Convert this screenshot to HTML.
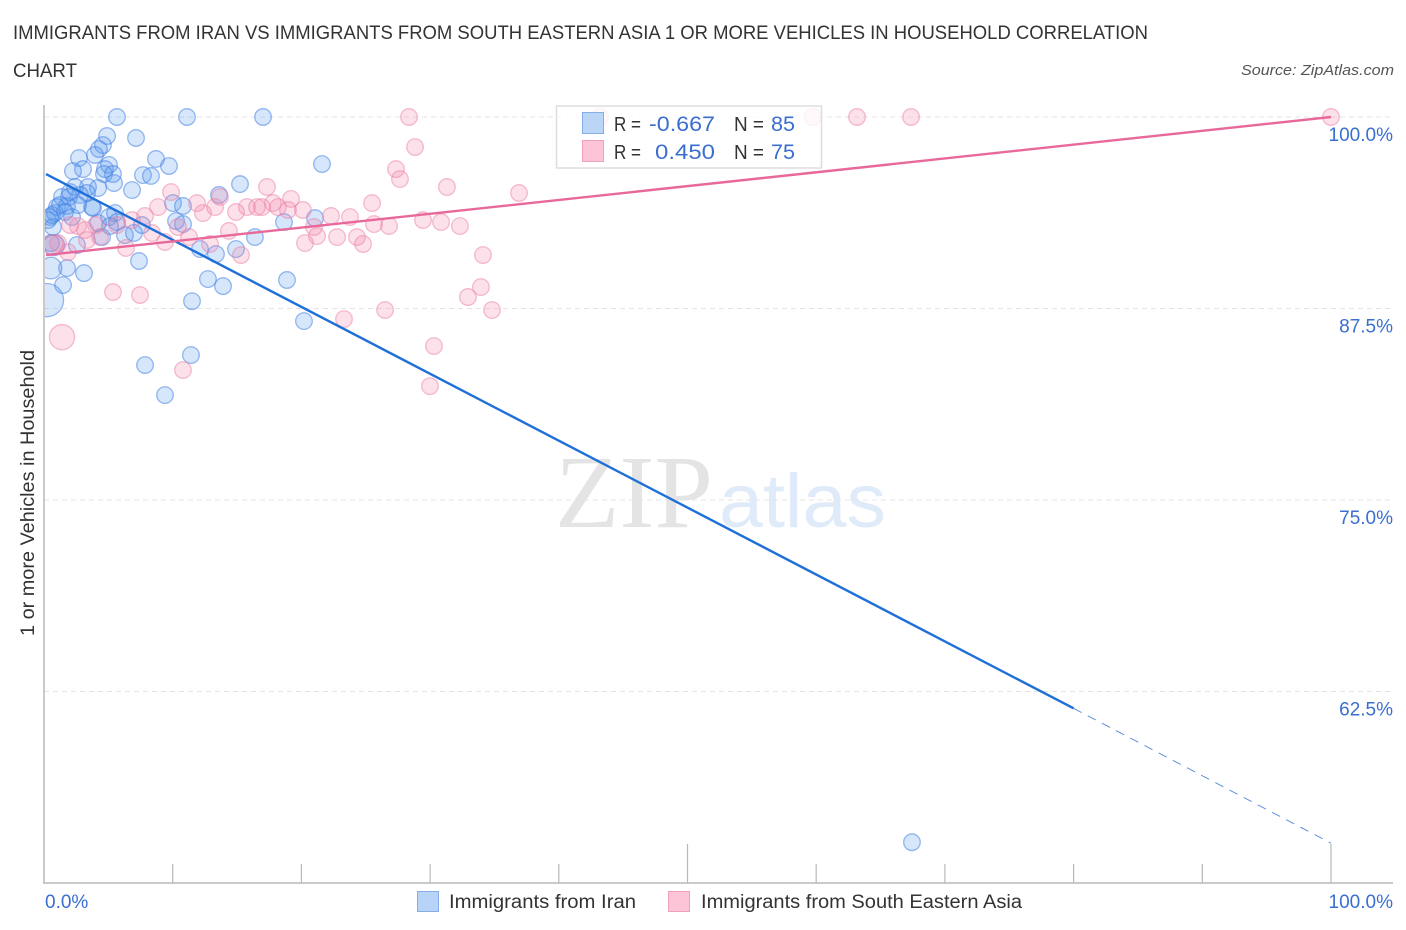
<!DOCTYPE html>
<html lang="en">
<head>
<meta charset="utf-8">
<title>Immigrants from Iran vs Immigrants from South Eastern Asia correlation chart</title>
<style>
html,body{margin:0;padding:0;background:#fff;}
svg{display:block;font-family:"Liberation Sans",sans-serif;}
</style>
</head>
<body>
<svg id="chart" xmlns="http://www.w3.org/2000/svg" width="1406" height="930" viewBox="0 0 1406 930">
  <defs><clipPath id="plot-clip"><rect x="45" y="90" width="1361" height="793"/></clipPath></defs>
  <text x="13" y="39" font-size="19" fill="#333" textLength="1135" lengthAdjust="spacingAndGlyphs">IMMIGRANTS FROM IRAN VS IMMIGRANTS FROM SOUTH EASTERN ASIA 1 OR MORE VEHICLES IN HOUSEHOLD CORRELATION</text>
  <text x="13" y="77" font-size="19" fill="#333" textLength="64" lengthAdjust="spacingAndGlyphs">CHART</text>
  <text x="1394" y="75" font-size="15" font-style="italic" fill="#555" text-anchor="end" textLength="153" lengthAdjust="spacingAndGlyphs">Source: ZipAtlas.com</text>
  <text x="555" y="527" font-size="104" font-family="'Liberation Serif',serif" fill="#e4e4e4" textLength="158" lengthAdjust="spacingAndGlyphs">ZIP</text>
  <text x="719" y="527" font-size="76" fill="#e0ebfa" textLength="167" lengthAdjust="spacingAndGlyphs">atlas</text>
  <g id="grid"></g>
  <g id="axes"></g>
  <g id="points" clip-path="url(#plot-clip)"></g>
  <g id="trends"></g>
  <text transform="translate(34,636) rotate(-90)" font-size="19" fill="#333" textLength="286" lengthAdjust="spacingAndGlyphs">1 or more Vehicles in Household</text>

  <g>
    <rect x="556.5" y="106" width="265" height="62" fill="#fff" fill-opacity="0.8" stroke="#ddd" stroke-width="1.5"/>
    <rect x="582.5" y="112.5" width="21" height="21" fill="#b7d3f7" fill-opacity="0.95" stroke="#86aee6" stroke-width="1"/>
    <rect x="582.5" y="140.5" width="21" height="21" fill="#fcc4d6" stroke="#f0a0bc" stroke-width="1"/>
    <text x="614" y="131" font-size="20" fill="#333" textLength="27" lengthAdjust="spacingAndGlyphs">R =</text>
    <text x="649" y="131" font-size="21.5" fill="#3a6fd0" textLength="66" lengthAdjust="spacingAndGlyphs">-0.667</text>
    <text x="734" y="131" font-size="20" fill="#333" textLength="30" lengthAdjust="spacingAndGlyphs">N =</text>
    <text x="771" y="131" font-size="21.5" fill="#3a6fd0" textLength="24" lengthAdjust="spacingAndGlyphs">85</text>
    <text x="614" y="159" font-size="20" fill="#333" textLength="27" lengthAdjust="spacingAndGlyphs">R =</text>
    <text x="655" y="159" font-size="21.5" fill="#3a6fd0" textLength="60" lengthAdjust="spacingAndGlyphs">0.450</text>
    <text x="734" y="159" font-size="20" fill="#333" textLength="30" lengthAdjust="spacingAndGlyphs">N =</text>
    <text x="771" y="159" font-size="21.5" fill="#3a6fd0" textLength="24" lengthAdjust="spacingAndGlyphs">75</text>
  </g>

  <g>
    <rect x="417.5" y="891.5" width="21" height="20" fill="#b7d3f7" stroke="#86aee6" stroke-width="1"/>
    <text x="449" y="908" font-size="19" fill="#333" textLength="187" lengthAdjust="spacingAndGlyphs">Immigrants from Iran</text>
  </g>
  <g>
    <rect x="668.5" y="891.5" width="21" height="20" fill="#fcc4d6" stroke="#f0a0bc" stroke-width="1"/>
    <text x="701" y="908" font-size="19" fill="#333" textLength="321" lengthAdjust="spacingAndGlyphs">Immigrants from South Eastern Asia</text>
  </g>
</svg>
<script>
// ---- chart data ----
const yTickValues = [100, 87.5, 75, 62.5];
const yTickLabels = ['100.0%', '87.5%', '75.0%', '62.5%'];
const xTickValues = [10, 20, 30, 40, 50, 60, 70, 80, 90, 100];
const xMajorTickValues = [50, 100];
const xEdgeValues = [0, 100];
const xEdgeLabels = ['0.0%', '100.0%'];

const iranX = [5.67,11.11,17.02,4.90,7.15,4.58,4.27,3.96,2.72,8.70,5.05,3.03,9.71,2.25,4.74,5.36,7.69,8.31,4.66,5.44,6.84,15.23,13.60,2.41,3.42,4.20,3.34,2.80,1.40,1.94,10.02,10.80,3.73,3.81,5.52,1.01,1.79,0.85,0.47,2.18,2.64,10.26,10.80,4.20,5.05,5.67,7.61,6.29,6.99,0.70,0.78,2.56,4.51,18.65,16.39,12.12,13.36,14.92,7.38,1.79,3.11,0.54,1.48,12.74,13.91,18.88,11.50,0.23,7.85,11.42,9.40,21.60,21.06,20.20,67.44,1.24,2.02,0.31,0.62,1.63,0.54,5.13];
const iranY = [100,100,100,98.76,98.63,98.17,97.91,97.52,97.32,97.26,96.87,96.60,96.80,96.47,96.60,96.28,96.21,96.15,96.28,95.69,95.23,95.62,94.91,95.43,95.43,95.36,95.04,94.91,94.78,94.78,94.38,94.19,94.12,94.06,93.73,94.12,94.19,93.73,93.47,93.47,94.25,93.21,93.01,93.08,93.47,93.14,92.95,92.29,92.43,92.82,91.64,91.64,92.16,93.14,92.16,91.38,91.05,91.38,90.60,90.14,89.81,90.14,89.03,89.42,88.96,89.36,87.98,88.05,83.81,84.46,81.85,96.93,93.40,86.68,52.66,94.25,95.10,93.27,93.60,93.80,91.77,92.88];
const iranWeight = [1,1,1,1,1,1,1,1,1,1,1,1,1,1,1,1,1,1,1,1,1,1,1,1,1,1,1,1,1,1,1,1,1,1,1,1,1,1,1,1,1,1,1,1,1,1,1,1,1,1,1.6,1,1,1,1,1,1,1,1,1,1,1.7,1,1,1,1,1,4,1,1,1,1,1,1,1,1,1,1,1,1,1,1];

const asiaX = [9.87,11.89,12.35,13.29,8.86,7.85,6.84,14.92,13.67,17.33,15.77,16.55,16.94,17.79,18.18,19.19,18.96,20.12,14.37,12.90,11.27,9.40,8.39,6.37,5.67,4.04,2.64,2.02,3.19,3.34,4.35,1.86,1.09,0.70,15.31,10.41,5.36,7.46,10.80,1.40,28.36,28.83,27.35,27.66,31.31,36.91,25.49,22.30,23.78,25.64,26.81,29.45,30.85,32.32,20.98,21.21,20.28,22.77,24.32,24.79,34.11,33.95,32.94,34.81,26.50,23.31,30.30,29.99,43.20,59.75,63.17,67.37,100,66.82,49.96];
const asiaY = [95.10,94.38,93.73,94.12,94.12,93.54,93.27,93.80,94.78,95.43,94.12,94.12,94.12,94.38,94.12,94.65,93.93,93.93,92.56,91.71,92.16,91.84,92.43,91.45,92.95,92.95,92.88,92.95,92.62,91.97,92.16,91.18,91.77,91.64,90.99,92.82,88.57,88.38,83.48,85.63,100,98.04,96.60,95.95,95.43,95.04,94.38,93.54,93.47,93.01,92.88,93.27,93.14,92.88,92.82,92.23,91.77,92.16,92.16,91.71,90.99,88.90,88.25,87.40,87.40,86.81,85.05,82.43,100,100,100,100,100,98.04,94.52];
const asiaWeight = [1,1,1,1,1,1,1,1,1,1,1,1,1,1,1,1,1,1,1,1,1,1,1,1,1,1,1,1,1,1,1,1,1,1.5,1,1,1,1,1,2.3,1,1,1,1,1,1,1,1,1,1,1,1,1,1,1,1,1,1,1,1,1,1,1,1,1,1,1,1,1,1,1,1,1];

const iranTrendX = [0, 80, 100];
const iranTrendY = [96.34, 61.4, 52.6];
const asiaTrendX = [0, 100];
const asiaTrendY = [90.99, 100];

// ---- axis functions ----
const xScale = v => 44 + v * 12.87;
const yScale = v => 117 + (100 - v) * 15.32;
const radiusOf = w => 8.3 * Math.sqrt(w);
const NS = 'http://www.w3.org/2000/svg';

function make(parent, tag, attrs) {
  const el = document.createElementNS(NS, tag);
  for (const k in attrs) el.setAttribute(k, attrs[k]);
  document.getElementById(parent).appendChild(el);
  return el;
}

// gridlines and y labels
yTickValues.forEach((v, i) => {
  const g = make('grid', 'line', {x1: 44, x2: 1393, y1: yScale(v), y2: yScale(v), stroke: '#e4e4e4', 'stroke-width': 1, 'stroke-dasharray': '5 4'});
  
  
  const t = make('axes', 'text', {x: 1393, y: yScale(v) + 24, 'font-size': 19, fill: '#3a6fd0', 'text-anchor': 'end'});
  
  
  t.textContent = yTickLabels[i];
});

// axes
const yAxis = make('axes', 'line', {x1: 44, x2: 44, y1: 105, y2: 883, stroke: '#b8b8b8', 'stroke-width': 1.5});


const xAxis = make('axes', 'line', {x1: 43, x2: 1393, y1: 883, y2: 883, stroke: '#b8b8b8', 'stroke-width': 1.5});



xTickValues.forEach(v => {
  const top = xMajorTickValues.includes(v) ? 844 : 864;
  const tick = make('axes', 'line', {x1: xScale(v), x2: xScale(v), y1: top, y2: 883, stroke: '#b8b8b8', 'stroke-width': 1.2});
  
  
});

xEdgeValues.forEach((v, i) => {
  const t = make('axes', 'text', {x: i === 0 ? xScale(v) + 1 : 1393, y: 908, 'font-size': 19, fill: '#3a6fd0', 'text-anchor': i === 0 ? 'start' : 'end'});
  
  
  t.textContent = xEdgeLabels[i];
});

// points
iranX.forEach((x, i) => {
  const c = make('points', 'circle', {cx: xScale(x), cy: yScale(iranY[i]), r: radiusOf(iranWeight[i]), fill: 'rgba(85,150,238,0.24)', stroke: 'rgba(70,130,225,0.55)', 'stroke-width': 1.3});
  
  
});
asiaX.forEach((x, i) => {
  const c = make('points', 'circle', {cx: xScale(x), cy: yScale(asiaY[i]), r: radiusOf(asiaWeight[i]), fill: 'rgba(242,130,168,0.24)', stroke: 'rgba(236,125,165,0.5)', 'stroke-width': 1.3});
  
  
});

// trend lines
const iranSolid = make('trends', 'line', {x1: xScale(iranTrendX[0]) + 2, y1: yScale(iranTrendY[0]) + 1, x2: xScale(iranTrendX[1]), y2: yScale(iranTrendY[1]), stroke: '#1f6fd8', 'stroke-width': 2.4});


const iranDash = make('trends', 'line', {x1: xScale(iranTrendX[1]), y1: yScale(iranTrendY[1]), x2: xScale(iranTrendX[2]), y2: yScale(iranTrendY[2]), stroke: '#5f8fdc', 'stroke-width': 1, 'stroke-dasharray': '9 7'});


const asiaLine = make('trends', 'line', {x1: xScale(asiaTrendX[0]) + 2, y1: yScale(asiaTrendY[0]), x2: xScale(asiaTrendX[1]), y2: yScale(asiaTrendY[1]), stroke: '#e8689a', 'stroke-width': 2.4});


</script>
</body>
</html>
